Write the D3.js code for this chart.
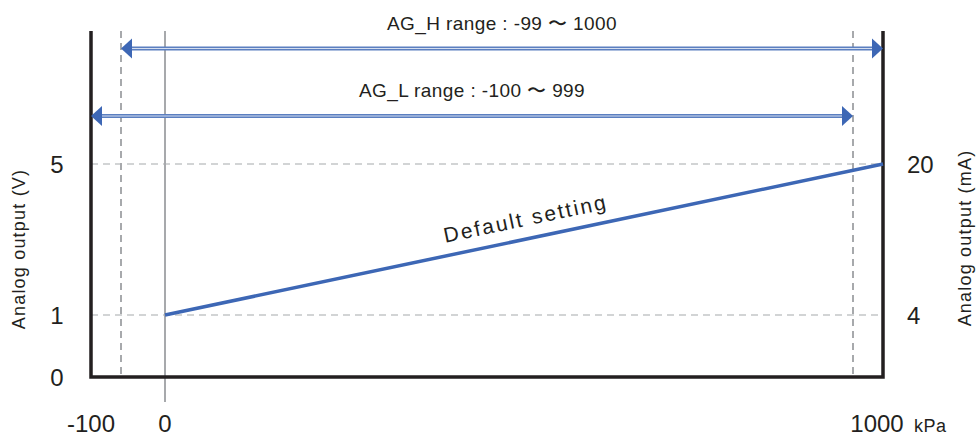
<!DOCTYPE html>
<html>
<head>
<meta charset="utf-8">
<script src="https://cdn.jsdelivr.net/npm/d3@7"></script>
<style>
  html, body { margin: 0; padding: 0; background: #fff; }
  svg { display: block; }
  text { font-family: "Liberation Sans", Arial, Helvetica, sans-serif; fill: #231f20; }
</style>
</head>
<body>
<svg id="chart" width="977" height="437"></svg>
<script>
// ---- data ----
const xTickValues = [-100, 0, 1000];
const xTickLabels = ["-100", "0", "1000"];
const xUnit = "kPa";
const yLeftTicks = [0, 1, 5];
const yRightTicks = [4, 20];
const yLeftTitle = "Analog output (V)";
const yRightTitle = "Analog output (mA)";
const lineKPa = [0, 1000];
const lineVolts = [1, 5];
const lineLabel = "Default setting";
const rangeLabels = ["AG_H range : -99 〜 1000", "AG_L range : -100 〜 999"];
const rangeFrom = [-99, -100];
const rangeTo = [1000, 999];
const markerKPa = [-99, 999];   // dashed vertical guides

// ---- layout ----
const plotTop = 31, plotBottom = 377;
const svg = d3.select("#chart");

// schematic (piecewise) scales
const x = d3.scaleLinear()
  .domain([-100, -99, 0, 999, 1000])
  .range([91, 121, 165, 853, 883]);
const yV = d3.scaleLinear().domain([0, 1, 5]).range([377, 315, 164]);
const yMA = d3.scaleLinear().domain([4, 20]).range([yV(1), yV(5)]);

const blue = "#3d67b5";
const grey = "#a7a9ac";
const black = "#231f20";

// horizontal dashed guides at 1 V and 5 V
svg.append("g").selectAll("line").data(yLeftTicks.filter(d => d > 0)).join("line")
  .attr("x1", x(-100)).attr("x2", x(1000))
  .attr("y1", d => yV(d)).attr("y2", d => yV(d))
  .attr("stroke", "#c4c6c8").attr("stroke-width", 1.5).attr("stroke-dasharray", "7,5");

// vertical dashed guides
svg.append("g").selectAll("line").data(markerKPa).join("line")
  .attr("x1", d => x(d)).attr("x2", d => x(d))
  .attr("y1", plotTop).attr("y2", plotBottom)
  .attr("stroke", grey).attr("stroke-width", 2).attr("stroke-dasharray", "7,5");

// solid vertical line at 0 kPa
svg.append("line")
  .attr("x1", x(0)).attr("x2", x(0)).attr("y1", plotTop).attr("y2", 402)
  .attr("stroke", grey).attr("stroke-width", 2);

// axes frame
svg.append("path")
  .attr("d", `M${x(-100)},${plotTop}V${yV(0)}H${x(1000)}V${plotTop}`)
  .attr("stroke", black).attr("stroke-width", 3.5).attr("fill", "none")
  .attr("stroke-linejoin", "miter");

// range arrows
const rowY = [48.5, 116];
rangeLabels.forEach((lab, i) => {
  const x1 = x(rangeFrom[i]), x2 = x(rangeTo[i]), yy = rowY[i];
  const g = svg.append("g");
  g.append("line").attr("x1", x1 + 8).attr("x2", x2 - 8).attr("y1", yy).attr("y2", yy)
    .attr("stroke", "#5b7fc0").attr("stroke-width", 4);
  g.append("line").attr("x1", x1 + 8).attr("x2", x2 - 8).attr("y1", yy).attr("y2", yy)
    .attr("stroke", "#d4def0").attr("stroke-width", 1.2);
  g.append("path").attr("d", `M${x1},${yy}l11,-10v20z`).attr("fill", blue);
  g.append("path").attr("d", `M${x2},${yy}l-11,-10v20z`).attr("fill", blue);
  svg.append("text").attr("x", (x1 + x2) / 2).attr("y", yy - 19)
    .attr("text-anchor", "middle").attr("font-size", 19).attr("letter-spacing", 0.4)
    .text(lab);
});

// default setting line
const lineData = lineKPa.map((k, i) => [k, lineVolts[i]]);
svg.append("path")
  .attr("d", d3.line().x(d => x(d[0])).y(d => yV(d[1]))(lineData))
  .attr("stroke", blue).attr("stroke-width", 3.5).attr("fill", "none");

const ang = Math.atan2(yV(lineVolts[1]) - yV(lineVolts[0]), x(lineKPa[1]) - x(lineKPa[0])) * 180 / Math.PI;
const lx = 527, lyBase = yV(1) + (yV(5) - yV(1)) * (x.invert(lx) / 1000);
svg.append("text")
  .attr("transform", `translate(${lx},${lyBase - 10}) rotate(${ang})`)
  .attr("text-anchor", "middle").attr("font-size", 21).attr("letter-spacing", 2.2)
  .text(lineLabel);

// left ticks
svg.append("g").selectAll("text").data(yLeftTicks).join("text")
  .attr("x", 57).attr("y", d => yV(d)).attr("dy", "0.36em")
  .attr("text-anchor", "middle").attr("font-size", 24)
  .text(d => d);

// right ticks
svg.append("g").selectAll("text").data(yRightTicks).join("text")
  .attr("x", 907).attr("y", d => yMA(d)).attr("dy", "0.36em")
  .attr("text-anchor", "start").attr("font-size", 24)
  .text(d => d);

// x ticks
svg.append("g").selectAll("text").data(xTickValues).join("text")
  .attr("x", d => x(d) - (d === 1000 ? 6 : 0)).attr("y", 432)
  .attr("text-anchor", "middle").attr("font-size", 24)
  .text((d, i) => xTickLabels[i]);
svg.append("text").attr("x", 914).attr("y", 432).attr("font-size", 18).attr("letter-spacing", 0.5).text(xUnit);

// axis titles
svg.append("text")
  .attr("transform", `translate(25,249) rotate(-90)`)
  .attr("text-anchor", "middle").attr("font-size", 18).attr("letter-spacing", 1.2)
  .text(yLeftTitle);
svg.append("text")
  .attr("transform", `translate(971,238) rotate(-90)`)
  .attr("text-anchor", "middle").attr("font-size", 18).attr("letter-spacing", 1.2)
  .text(yRightTitle);
</script>
</body>
</html>
